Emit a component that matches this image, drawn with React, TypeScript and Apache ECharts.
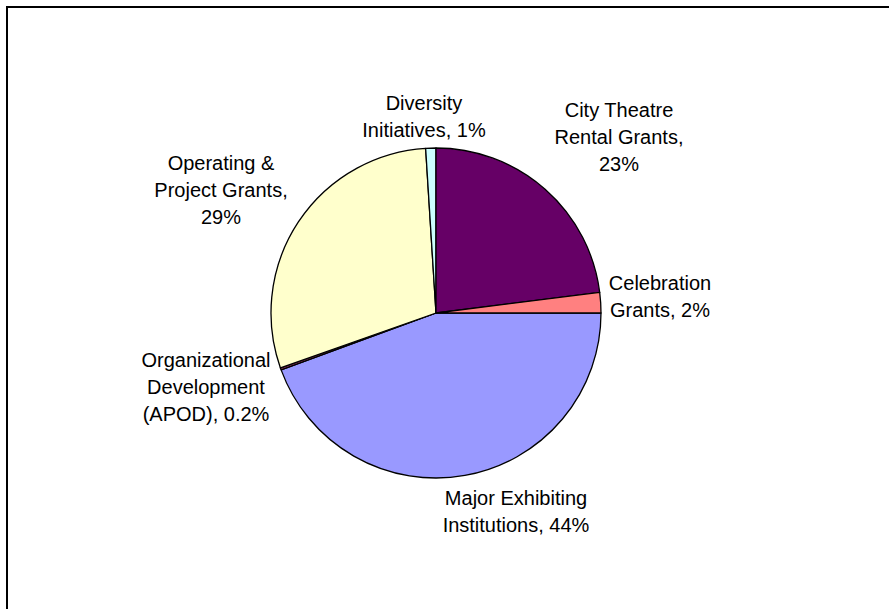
import React, { useEffect, useRef } from "react";
import * as echarts from "echarts";

// Data (clockwise from 3 o'clock)
const categories = [
  "Major Exhibiting Institutions",
  "Organizational Development (APOD)",
  "Operating & Project Grants",
  "Diversity Initiatives",
  "City Theatre Rental Grants",
  "Celebration Grants",
];
const values = [44.4, 0.2, 29.4, 1.0, 23.0, 2.0];
const labelTexts = [
  "Major Exhibiting\nInstitutions, 44%",
  "Organizational\nDevelopment\n(APOD), 0.2%",
  "Operating &\nProject Grants,\n29%",
  "Diversity\nInitiatives, 1%",
  "City Theatre\nRental Grants,\n23%",
  "Celebration\nGrants, 2%",
];
const colors = ["#9999FF", "#993366", "#FFFFCC", "#CCFFFF", "#660066", "#FF8080"];

// Layout (label block centres in px)
const labelPos: [number, number][] = [
  [516, 511],
  [206, 387],
  [221, 190],
  [424, 116],
  [619, 137],
  [660, 296],
];

export default function App() {
  const ref = useRef<HTMLDivElement>(null);
  useEffect(() => {
    if (!ref.current) return;
    const chart = echarts.init(ref.current, undefined, { renderer: "svg" });
    chart.setOption({
      animation: false,
      backgroundColor: "#ffffff",
      graphic: [
        {
          type: "rect",
          shape: { x: 7, y: 7, width: 1000, height: 1000 },
          style: { fill: "none", stroke: "#000", lineWidth: 2 },
          silent: true,
        },
      ],
      series: [
        {
          type: "pie",
          center: [436, 313],
          radius: 165,
          startAngle: 0,
          clockwise: true,
          avoidLabelOverlap: false,
          minAngle: 0,
          data: categories.map((c, i) => ({
            name: c,
            value: values[i],
            itemStyle: { color: colors[i] },
            label: { formatter: labelTexts[i] },
          })),
          itemStyle: { borderColor: "#000", borderWidth: 1.3 },
          label: {
            show: true,
            position: "outside",
            color: "#000",
            fontSize: 20,
            lineHeight: 27,
            fontFamily: "'Liberation Sans', Arial, sans-serif",
            align: "center",
          },
          labelLine: { show: false },
          labelLayout: (params: any) => {
            const p = labelPos[params.dataIndex];
            return { x: p[0], y: p[1], align: "center", verticalAlign: "middle" };
          },
          emphasis: { disabled: true },
        },
      ],
    });
    return () => chart.dispose();
  }, []);
  return (
    <div
      ref={ref}
      style={{ position: "fixed", left: 0, top: 0, width: 889, height: 609, background: "#fff" }}
    />
  );
}
